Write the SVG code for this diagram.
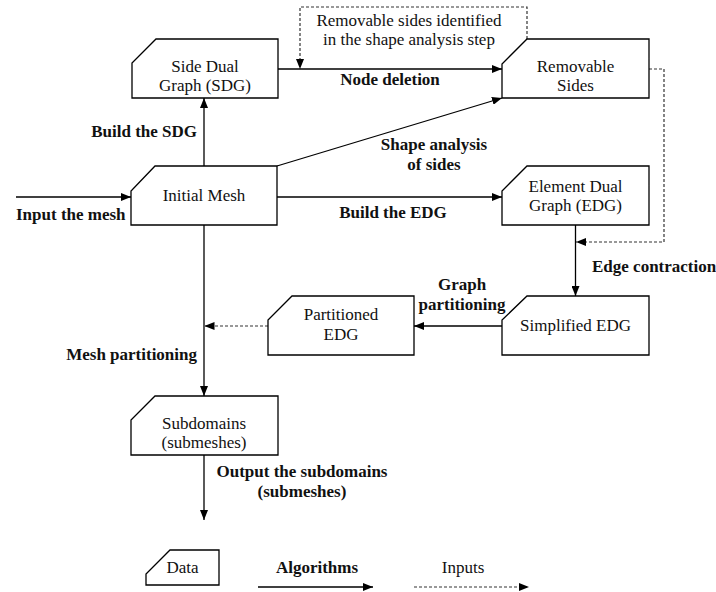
<svg xmlns="http://www.w3.org/2000/svg" width="716" height="592" viewBox="0 0 716 592" font-family="Liberation Serif, DejaVu Serif, serif">
<style>
  .node { fill: #ffffff; stroke: #000000; stroke-width: 1.3; }
  .t { font-family: 'Liberation Serif', 'DejaVu Serif', serif; font-size: 17px; fill: #111111; text-anchor: middle; }
  .b { font-family: 'Liberation Serif', 'DejaVu Serif', serif; font-size: 17px; font-weight: bold; fill: #111111; }
  .solid { fill: none; stroke: #000000; stroke-width: 1.3; }
  .dash { fill: none; stroke: #333333; stroke-width: 1.2; stroke-dasharray: 3 2; }
</style>
<defs>
  <marker id="arr" markerUnits="userSpaceOnUse" markerWidth="10" markerHeight="8" refX="10" refY="4" orient="auto">
    <path d="M0,0 L10,4 L0,8 z" fill="#000000"/>
  </marker>
</defs>
<rect width="716" height="592" fill="#ffffff"/>

<g id="connectors">
  <line class="solid" x1="16" y1="197" x2="131" y2="197" marker-end="url(#arr)"/>
  <line class="solid" x1="204" y1="166" x2="204" y2="98" marker-end="url(#arr)"/>
  <line class="solid" x1="278" y1="69" x2="502" y2="69" marker-end="url(#arr)"/>
  <line class="solid" x1="277" y1="166" x2="502" y2="98" marker-end="url(#arr)"/>
  <line class="solid" x1="277" y1="197" x2="502" y2="197" marker-end="url(#arr)"/>
  <line class="solid" x1="575.5" y1="225" x2="575.5" y2="296" marker-end="url(#arr)"/>
  <line class="solid" x1="502" y1="326" x2="414" y2="326" marker-end="url(#arr)"/>
  <line class="solid" x1="204" y1="225" x2="204" y2="396" marker-end="url(#arr)"/>
  <line class="solid" x1="204" y1="455" x2="204" y2="520" marker-end="url(#arr)"/>
  <path class="dash" d="M527,39 V7 H300 V69" marker-end="url(#arr)"/>
  <path class="dash" d="M649,69 H664 V242 H576" marker-end="url(#arr)"/>
  <line class="dash" x1="268" y1="326" x2="204.5" y2="326" marker-end="url(#arr)"/>
</g>

<g id="labels">
  <text class="t" x="409" y="26">Removable sides identified</text>
  <text class="t" x="409" y="45">in the shape analysis step</text>
  <text class="b" x="390" y="85" text-anchor="middle">Node deletion</text>
  <text class="b" x="197" y="137" text-anchor="end">Build the SDG</text>
  <text class="b" x="434" y="150" text-anchor="middle">Shape analysis</text>
  <text class="b" x="434" y="170" text-anchor="middle">of sides</text>
  <text class="b" x="16" y="220">Input the mesh</text>
  <text class="b" x="393" y="218" text-anchor="middle">Build the EDG</text>
  <text class="b" x="592" y="272">Edge contraction</text>
  <text class="b" x="462" y="290" text-anchor="middle">Graph</text>
  <text class="b" x="462" y="310" text-anchor="middle">partitioning</text>
  <text class="b" x="197" y="360" text-anchor="end">Mesh partitioning</text>
  <text class="b" x="302" y="477" text-anchor="middle">Output the subdomains</text>
  <text class="b" x="302" y="497" text-anchor="middle">(submeshes)</text>
</g>

<g id="sdg">
  <path class="node" d="M156,39 H278 V98 H132 V63 Z"/>
  <text class="t" x="205" y="72">Side Dual</text>
  <text class="t" x="205" y="91">Graph (SDG)</text>
</g>
<g id="removable-sides">
  <path class="node" d="M527,39 H649 V98 H502 V64 Z"/>
  <text class="t" x="575.5" y="72">Removable</text>
  <text class="t" x="575.5" y="91">Sides</text>
</g>
<g id="initial-mesh">
  <path class="node" d="M155,166 H277 V225 H131 V191 Z"/>
  <text class="t" x="204" y="201">Initial Mesh</text>
</g>
<g id="edg">
  <path class="node" d="M527,166 H649 V225 H502 V191 Z"/>
  <text class="t" x="575.5" y="192">Element Dual</text>
  <text class="t" x="575.5" y="211">Graph (EDG)</text>
</g>
<g id="simplified-edg">
  <path class="node" d="M527,296 H649 V355 H502 V320 Z"/>
  <text class="t" x="575.5" y="331">Simplified EDG</text>
</g>
<g id="partitioned-edg">
  <path class="node" d="M292,296 H414 V355 H268 V320 Z"/>
  <text class="t" x="341" y="320">Partitioned</text>
  <text class="t" x="341" y="340">EDG</text>
</g>
<g id="subdomains">
  <path class="node" d="M155,396 H278 V455 H131 V420 Z"/>
  <text class="t" x="204" y="429">Subdomains</text>
  <text class="t" x="204" y="448">(submeshes)</text>
</g>

<g id="legend">
  <g id="legend-data">
    <path class="node" d="M170,550 H219 V585 H146 V574 Z"/>
    <text class="t" x="182.5" y="573">Data</text>
  </g>
  <text class="b" x="317" y="573" text-anchor="middle">Algorithms</text>
  <line class="solid" x1="258" y1="587" x2="373" y2="587" marker-end="url(#arr)"/>
  <text class="t" x="463" y="573">Inputs</text>
  <line class="dash" x1="414" y1="587" x2="529" y2="587" marker-end="url(#arr)"/>
</g>
</svg>
